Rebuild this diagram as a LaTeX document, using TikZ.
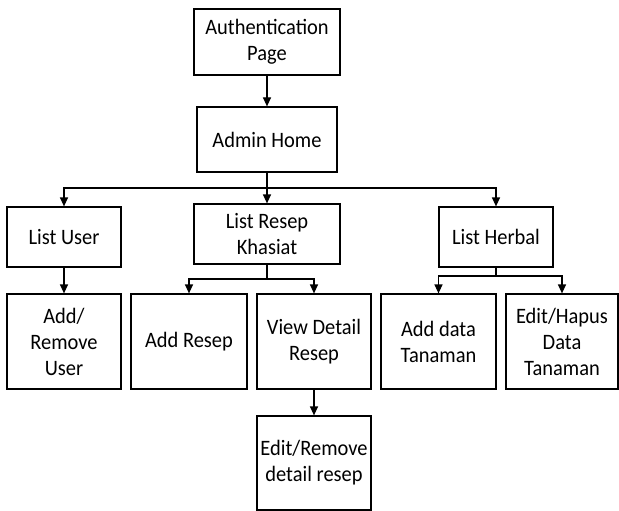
\documentclass[tikz,border=0pt]{standalone}
\usepackage{fontspec}
\setmainfont{Carlito}[FakeStretch=0.93]
\usetikzlibrary{arrows.meta}
\begin{document}
\begin{tikzpicture}[x=1pt,y=-1pt,
  box/.style={draw, line width=1.2pt, align=center, inner sep=0pt,
    font=\fontsize{22}{26}\selectfont},
  link/.style={line width=1.2pt, -{Triangle[width=8pt,length=9pt]}},
  wire/.style={line width=1.2pt}]
\useasboundingbox (0,0) rectangle (619,511);
\fill[white] (0,0) rectangle (619,511);

% page nodes
\node[box, minimum width=146pt, minimum height=66pt] (auth) at (267,42) {Authentication\\Page};
\node[box, minimum width=140pt, minimum height=65pt] (admin) at (267,139.5) {Admin Home};
\node[box, minimum width=114pt, minimum height=60pt] (luser) at (64,237) {List User};
\node[box, minimum width=146pt, minimum height=60pt] (lresep) at (267,234) {List Resep\\Khasiat};
\node[box, minimum width=114pt, minimum height=60pt] (lherbal) at (496,237) {List Herbal};
\node[box, minimum width=114pt, minimum height=95pt] (aruser) at (64,341.5) {Add/\\Remove\\User};
\node[box, minimum width=116pt, minimum height=95pt] (addresep) at (189,341.5) {Add Resep};
\node[box, minimum width=114pt, minimum height=95pt] (viewdet) at (314,341.5) {View Detail\\Resep};
\node[box, minimum width=115pt, minimum height=95pt] (adddata) at (438.5,341.5) {Add data\\Tanaman};
\node[box, minimum width=112pt, minimum height=95pt] (edithapus) at (562,341.5) {Edit/Hapus\\Data\\Tanaman};
\node[box, minimum width=114pt, minimum height=94pt] (editrem) at (314,463) {Edit/Remove\\detail resep};

% junction points
\coordinate (bus) at (267,188);
\coordinate (rbus) at (267,279);
\coordinate (hbus) at (496,276);

% connectors
\draw[link] (auth) -- (admin);
\draw[link] (admin) -- (lresep);
\draw[link] (bus) -| (luser.north);
\draw[link] (bus) -| (lherbal.north);
\draw[wire] (lresep.south) -- (rbus);
\draw[link] (rbus) -| (addresep.north);
\draw[link] (rbus) -| (viewdet.north);
\draw[link] (luser) -- (aruser);
\draw[wire] (lherbal.south) -- (hbus);
\draw[link] (hbus) -| (adddata.north);
\draw[link] (hbus) -| (edithapus.north);
\draw[link] (viewdet) -- (editrem);
\end{tikzpicture}
\end{document}
